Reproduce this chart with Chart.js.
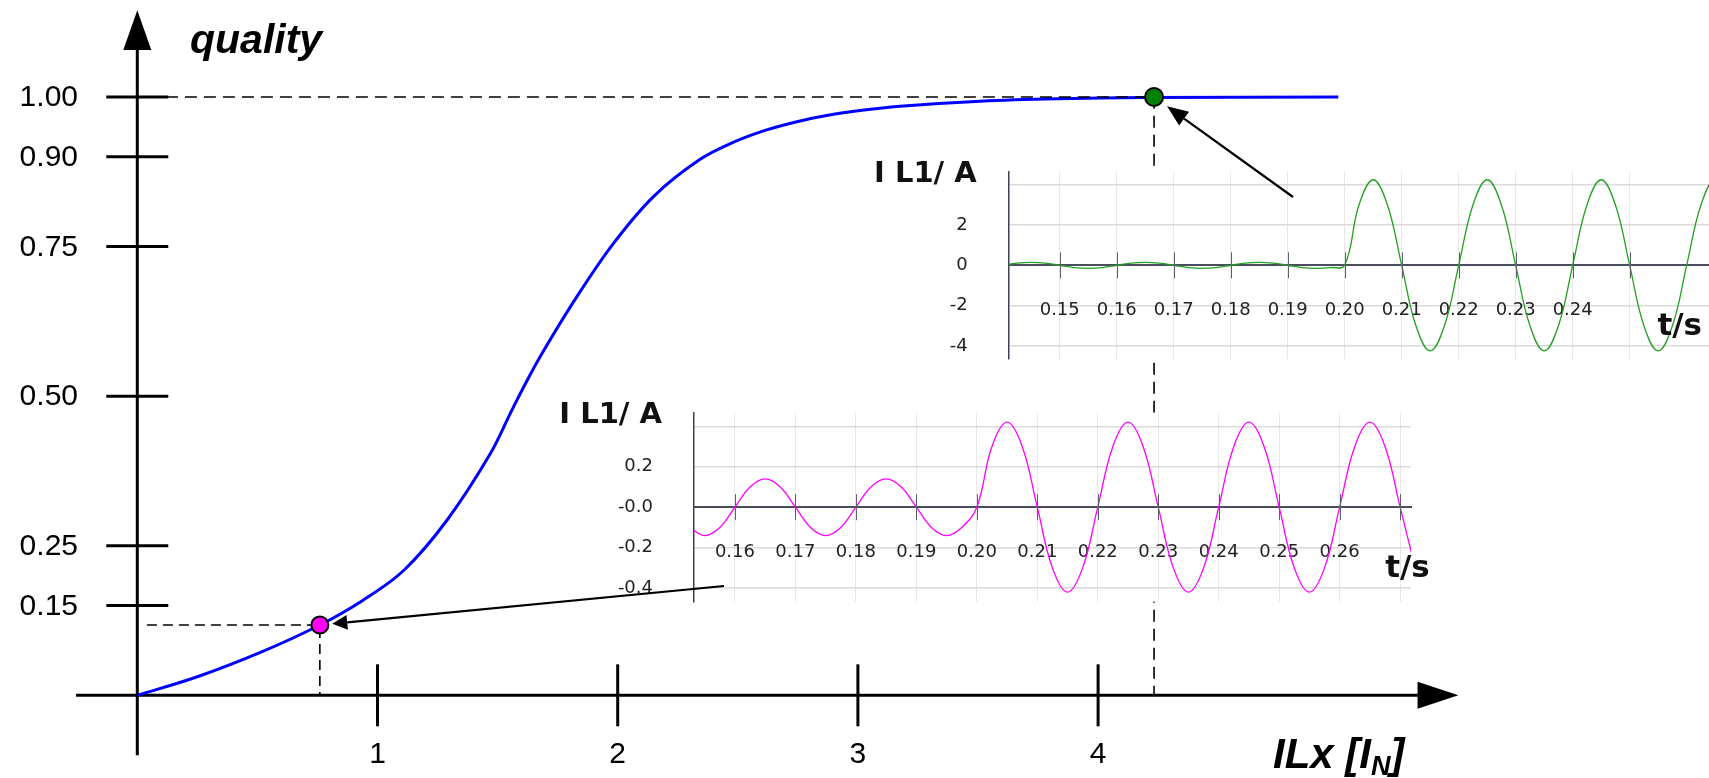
<!DOCTYPE html>
<html>
<head>
<meta charset="utf-8">
<title>quality over ILx</title>
<script src="https://cdn.jsdelivr.net/npm/chart.js@4.4.1/dist/chart.umd.min.js"></script>
<style>
  html, body { margin: 0; padding: 0; background: #fff; overflow: hidden; }
  #wrap { position: relative; width: 1709px; height: 778px; overflow: hidden; }
  canvas { position: absolute; }
  #mainChart { left: 0; top: 0; }
  #greenChart { left: 860px; top: 140px; }
  #pinkChart { left: 530px; top: 395px; }
  #arrows { left: 0; top: 0; pointer-events: none; }
</style>
</head>
<body>
<div id="wrap">
  <canvas id="mainChart" width="1709" height="778"></canvas>
  <canvas id="greenChart" width="900" height="240"></canvas>
  <canvas id="pinkChart" width="900" height="230"></canvas>
  <canvas id="arrows" width="1709" height="778"></canvas>
</div>
<script>
// Quality curve over ILx [IN]
const curveX = [0, 0.25, 0.52, 0.76, 0.94, 1.11, 1.29, 1.47, 1.56, 1.62, 1.68, 1.82, 1.98, 2.15, 2.34, 2.48, 2.62, 2.76, 2.87, 3.0, 3.19, 3.51, 3.83, 4.2, 5.0];
const curveY = [0, 0.031, 0.073, 0.1175, 0.159, 0.209, 0.293, 0.404, 0.477, 0.524, 0.568, 0.66, 0.754, 0.834, 0.895, 0.924, 0.945, 0.96, 0.969, 0.977, 0.985, 0.993, 0.997, 0.999, 1.0];

// Marked operating points
const lowPoint = { x: 0.76, y: 0.1175 };
const fullPoint = { x: 4.233, y: 1.0 };

const qualityTicks = [0.15, 0.25, 0.5, 0.75, 0.9, 1.0];
const qualityLabels = ["0.15", "0.25", "0.50", "0.75", "0.90", "1.00"];
const currentTicks = [1, 2, 3, 4];
const currentLabels = ["1", "2", "3", "4"];

// Phase current at full quality (upper trace)
const greenT = [0.14, 0.1425, 0.145, 0.1475, 0.15, 0.1525, 0.155, 0.1575, 0.16, 0.1625, 0.165, 0.1675,
  0.17, 0.1725, 0.175, 0.1775, 0.18, 0.1825, 0.185, 0.1875, 0.19, 0.1925, 0.195, 0.1975, 0.2,
  0.2025, 0.205, 0.2075, 0.21, 0.2125, 0.215, 0.2175, 0.22, 0.2225, 0.225, 0.2275, 0.23, 0.2325,
  0.235, 0.2375, 0.24, 0.2425, 0.245, 0.2475, 0.25, 0.2525, 0.255, 0.2575, 0.26, 0.2625, 0.265, 0.2675];
const greenI = [0, 0.11, 0.15, 0.11, 0, -0.11, -0.15, -0.11, 0, 0.11, 0.15, 0.11,
  0, -0.11, -0.15, -0.11, 0, 0.11, 0.15, 0.11, 0, -0.11, -0.15, -0.11, 0,
  3.0, 4.25, 3.0, 0, -3.0, -4.25, -3.0, 0, 3.0, 4.25, 3.0, 0, -3.0,
  -4.25, -3.0, 0, 3.0, 4.25, 3.0, 0, -3.0, -4.25, -3.0, 0, 3.0, 4.25, 3.0];
const greenXTicks = [0.15, 0.16, 0.17, 0.18, 0.19, 0.2, 0.21, 0.22, 0.23, 0.24, 0.25];
const greenXLabels = ["0.15", "0.16", "0.17", "0.18", "0.19", "0.20", "0.21", "0.22", "0.23", "0.24", ""];
const greenYTicks = [-4, -2, 0, 2, 4];
const greenYLabels = ["-4", "-2", "0", "2", ""];

// Phase current at low quality (lower trace)
const pinkT = [0.1525, 0.155, 0.1575, 0.16, 0.1625, 0.165, 0.1675, 0.17, 0.1725, 0.175, 0.1775,
  0.18, 0.1825, 0.185, 0.1875, 0.19, 0.1925, 0.195, 0.1975, 0.2,
  0.2025, 0.205, 0.2075, 0.21, 0.2125, 0.215, 0.2175, 0.22, 0.2225, 0.225, 0.2275, 0.23, 0.2325,
  0.235, 0.2375, 0.24, 0.2425, 0.245, 0.2475, 0.25, 0.2525, 0.255, 0.2575, 0.26, 0.2625, 0.265,
  0.2675, 0.27, 0.2725];
const pinkI = [-0.1, -0.14, -0.1, 0, 0.1, 0.14, 0.1, 0, -0.1, -0.14, -0.1,
  0, 0.1, 0.14, 0.1, 0, -0.1, -0.14, -0.1, 0,
  0.3, 0.42, 0.3, 0, -0.3, -0.42, -0.3, 0, 0.3, 0.42, 0.3, 0, -0.3,
  -0.42, -0.3, 0, 0.3, 0.42, 0.3, 0, -0.3, -0.42, -0.3, 0, 0.3, 0.42,
  0.3, 0, -0.3];
const pinkXTicks = [0.16, 0.17, 0.18, 0.19, 0.2, 0.21, 0.22, 0.23, 0.24, 0.25, 0.26, 0.27];
const pinkXLabels = ["0.16", "0.17", "0.18", "0.19", "0.20", "0.21", "0.22", "0.23", "0.24", "0.25", "0.26", ""];
const pinkYTicks = [-0.4, -0.2, 0, 0.2, 0.4];
const pinkYLabels = ["-0.4", "-0.2", "-0.0", "0.2", ""];

const mainFont = "'Liberation Sans', Arial, sans-serif";
const insetFont = "'DejaVu Sans', sans-serif";

// Axes with arrows, crossing ticks and labels for the main plot
const qualityAxes = {
  id: "qualityAxes",
  beforeDatasetsDraw(chart) {
    const { ctx, scales: { x, y } } = chart;
    const x0 = x.getPixelForValue(0);
    const y0 = y.getPixelForValue(0);
    ctx.save();
    ctx.strokeStyle = "#000";
    ctx.fillStyle = "#000";
    ctx.lineWidth = 3;

    ctx.beginPath();
    ctx.moveTo(x0, y.getPixelForValue(-0.1));
    ctx.lineTo(x0, y.getPixelForValue(1.08));
    ctx.moveTo(x.getPixelForValue(-0.255), y0);
    ctx.lineTo(x.getPixelForValue(5.34), y0);
    ctx.stroke();

    // arrow heads
    const yTip = y.getPixelForValue(1.145), yBase = y.getPixelForValue(1.0786);
    ctx.beginPath();
    ctx.moveTo(x0, yTip);
    ctx.lineTo(x0 - 14, yBase);
    ctx.lineTo(x0 + 14, yBase);
    ctx.closePath();
    ctx.fill();
    const xTip = x.getPixelForValue(5.5), xBase = x.getPixelForValue(5.33);
    ctx.beginPath();
    ctx.moveTo(xTip, y0);
    ctx.lineTo(xBase, y0 - 13.5);
    ctx.lineTo(xBase, y0 + 13.5);
    ctx.closePath();
    ctx.fill();

    ctx.font = "30px " + mainFont;
    ctx.textBaseline = "middle";
    ctx.textAlign = "right";
    qualityTicks.forEach((v, i) => {
      const py = y.getPixelForValue(v);
      ctx.beginPath();
      ctx.moveTo(x0 - 31, py);
      ctx.lineTo(x0 + 31, py);
      ctx.stroke();
      ctx.fillText(qualityLabels[i], 78, py + 1);
    });
    ctx.textAlign = "center";
    currentTicks.forEach((v, i) => {
      const px = x.getPixelForValue(v);
      ctx.beginPath();
      ctx.moveTo(px, y0 - 31);
      ctx.lineTo(px, y0 + 31);
      ctx.stroke();
      ctx.fillText(currentLabels[i], px, y0 + 59);
    });

    // axis titles
    ctx.textAlign = "left";
    ctx.textBaseline = "alphabetic";
    ctx.font = "italic bold 41px " + mainFont;
    ctx.fillText("quality", 190, 53);
    ctx.font = "italic bold 42px " + mainFont;
    const head = "ILx [I";
    ctx.fillText(head, 1273, 768);
    let cx = 1273 + ctx.measureText(head).width;
    ctx.font = "italic bold 27px " + mainFont;
    ctx.fillText("N", cx, 775);
    cx += ctx.measureText("N").width;
    ctx.font = "italic bold 42px " + mainFont;
    ctx.fillText("]", cx, 768);
    ctx.restore();
  }
};

function drawArrow(ctx, fromX, fromY, toX, toY, gap, headLen, headHalf) {
  const dx = toX - fromX, dy = toY - fromY;
  const len = Math.hypot(dx, dy);
  const ux = dx / len, uy = dy / len;
  const tipX = toX - ux * gap, tipY = toY - uy * gap;
  const baseX = tipX - ux * headLen, baseY = tipY - uy * headLen;
  ctx.beginPath();
  ctx.moveTo(fromX, fromY);
  ctx.lineTo(baseX, baseY);
  ctx.stroke();
  ctx.beginPath();
  ctx.moveTo(tipX, tipY);
  ctx.lineTo(baseX - uy * headHalf, baseY + ux * headHalf);
  ctx.lineTo(baseX + uy * headHalf, baseY - ux * headHalf);
  ctx.closePath();
  ctx.fill();
}

// Pointer arrows from the traces to their operating points, drawn above everything
const arrowOverlay = {
  id: "arrowOverlay",
  afterDraw(chart) {
    const { x, y } = chart.scales;
    const ctx = document.getElementById("arrows").getContext("2d");
    ctx.clearRect(0, 0, 1709, 778);
    ctx.strokeStyle = "#000";
    ctx.fillStyle = "#000";
    ctx.lineWidth = 2.2;
    drawArrow(ctx, 724, 586, x.getPixelForValue(lowPoint.x), y.getPixelForValue(lowPoint.y), 12.5, 15, 7.5);
    drawArrow(ctx, 1293, 197, x.getPixelForValue(fullPoint.x), y.getPixelForValue(fullPoint.y), 16, 21, 8.5);
  }
};

new Chart(document.getElementById("mainChart"), {
  type: "line",
  data: {
    datasets: [
      {
        data: curveX.map((v, i) => ({ x: v, y: curveY[i] })),
        borderColor: "#0000ff",
        borderWidth: 3,
        pointRadius: 0,
        tension: 0.35,
        order: 3
      },
      {
        data: [{ x: 0.04, y: lowPoint.y }, lowPoint, { x: lowPoint.x, y: 0 }],
        borderColor: "#000",
        borderWidth: 1.6,
        borderDash: [10, 6],
        pointRadius: 0,
        tension: 0,
        order: 2
      },
      {
        data: [{ x: 0.04, y: fullPoint.y }, fullPoint, { x: fullPoint.x, y: 0 }],
        borderColor: "#000",
        borderWidth: 1.6,
        borderDash: [12, 7],
        pointRadius: 0,
        tension: 0,
        order: 2
      },
      {
        data: [lowPoint],
        showLine: false,
        pointRadius: 8.5,
        pointBackgroundColor: "#ff00ff",
        pointBorderColor: "#000",
        pointBorderWidth: 2,
        order: 1
      },
      {
        data: [fullPoint],
        showLine: false,
        pointRadius: 9,
        pointBackgroundColor: "#008000",
        pointBorderColor: "#000",
        pointBorderWidth: 2,
        order: 1
      }
    ]
  },
  options: {
    responsive: false,
    animation: false,
    devicePixelRatio: 1,
    events: [],
    layout: { padding: 0, autoPadding: false },
    plugins: { legend: { display: false }, tooltip: { enabled: false } },
    scales: {
      x: { type: "linear", display: false, min: -0.5716, max: 6.5433 },
      y: { type: "linear", display: false, min: -0.1382, max: 1.1621 }
    }
  },
  plugins: [qualityAxes, arrowOverlay]
});

// White plot area, zero-line ticks and captions for the current traces
const insetDecor = {
  id: "insetDecor",
  beforeDraw(chart) {
    const { ctx, chartArea: a } = chart;
    ctx.save();
    ctx.fillStyle = "#fff";
    ctx.fillRect(a.left, a.top, a.right - a.left, a.bottom - a.top);
    ctx.restore();
  },
  afterDraw(chart, args, opts) {
    const { ctx, chartArea: a, scales: { x, y } } = chart;
    const zero = y.getPixelForValue(0);
    ctx.save();
    ctx.strokeStyle = "#5c606c";
    ctx.lineWidth = 1;
    x.ticks.forEach(t => {
      const px = Math.round(x.getPixelForValue(t.value)) + 0.5;
      ctx.beginPath();
      ctx.moveTo(px, zero - 13);
      ctx.lineTo(px, zero + 13);
      ctx.stroke();
    });
    ctx.fillStyle = "#111";
    ctx.textBaseline = "middle";
    ctx.textAlign = "right";
    ctx.font = "bold 29px " + insetFont;
    ctx.fillText(opts.title, a.left - 32, a.top + 3);
    ctx.font = "bold 31px " + insetFont;
    ctx.fillText(opts.unit, x.getPixelForValue(opts.unitAt), zero + 62);
    ctx.restore();
  }
};

function currentChart(id, t, current, color, s) {
  return new Chart(document.getElementById(id), {
    type: "line",
    data: {
      datasets: [{
        data: t.map((v, i) => ({ x: v, y: current[i] })),
        borderColor: color,
        borderWidth: 1.3,
        pointRadius: 0,
        tension: 0.4
      }]
    },
    options: {
      responsive: false,
      animation: false,
      devicePixelRatio: 1,
      events: [],
      layout: { padding: s.padding, autoPadding: false },
      plugins: {
        legend: { display: false },
        tooltip: { enabled: false },
        insetDecor: { title: "I L1/ A", unit: "t/s", unitAt: s.unitAt }
      },
      scales: {
        x: {
          type: "linear",
          min: s.tMin,
          max: s.tMax,
          position: { y: 0 },
          afterBuildTicks: sc => { sc.ticks = s.xTicks.map(v => ({ value: v })); },
          afterFit: sc => { sc.paddingLeft = 0; sc.paddingRight = 0; },
          grid: { color: "#e8e8e8", lineWidth: 1, drawTicks: false },
          border: { color: "#4a4e5c", width: 2 },
          ticks: {
            padding: 34,
            maxRotation: 0,
            autoSkip: false,
            color: "#222",
            font: { family: insetFont, size: 18 },
            callback: (v, i) => s.xLabels[i]
          }
        },
        y: {
          type: "linear",
          min: -s.yMax,
          max: s.yMax,
          afterBuildTicks: sc => { sc.ticks = s.yTicks.map(v => ({ value: v })); },
          afterFit: sc => { sc.width = s.axisWidth; sc.paddingTop = 0; sc.paddingBottom = 0; },
          grid: {
            color: c => (c.tick && c.tick.value === 0 ? "rgba(0,0,0,0)" : "#dadada"),
            lineWidth: 1.5,
            drawTicks: false
          },
          border: { color: "#3d4152", width: 1.5 },
          ticks: {
            padding: 41,
            color: "#222",
            font: { family: insetFont, size: 18 },
            callback: (v, i) => s.yLabels[i]
          }
        }
      }
    },
    plugins: [insetDecor]
  });
}

currentChart("greenChart", greenT, greenI, "#22a022", {
  padding: { left: 0, top: 31.7, right: 30, bottom: 21 },
  axisWidth: 148.7,
  tMin: 0.14105, tMax: 0.2676, yMax: 4.65,
  xTicks: greenXTicks, xLabels: greenXLabels,
  yTicks: greenYTicks, yLabels: greenYLabels,
  unitAt: 0.2627
});

currentChart("pinkChart", pinkT, pinkI, "#ff00ff", {
  padding: { left: 0, top: 17.7, right: 19, bottom: 23.3 },
  axisWidth: 164,
  tMin: 0.15323, tMax: 0.2718, yMax: 0.467,
  xTicks: pinkXTicks, xLabels: pinkXLabels,
  yTicks: pinkYTicks, yLabels: pinkYLabels,
  unitAt: 0.2749
});
</script>
</body>
</html>
